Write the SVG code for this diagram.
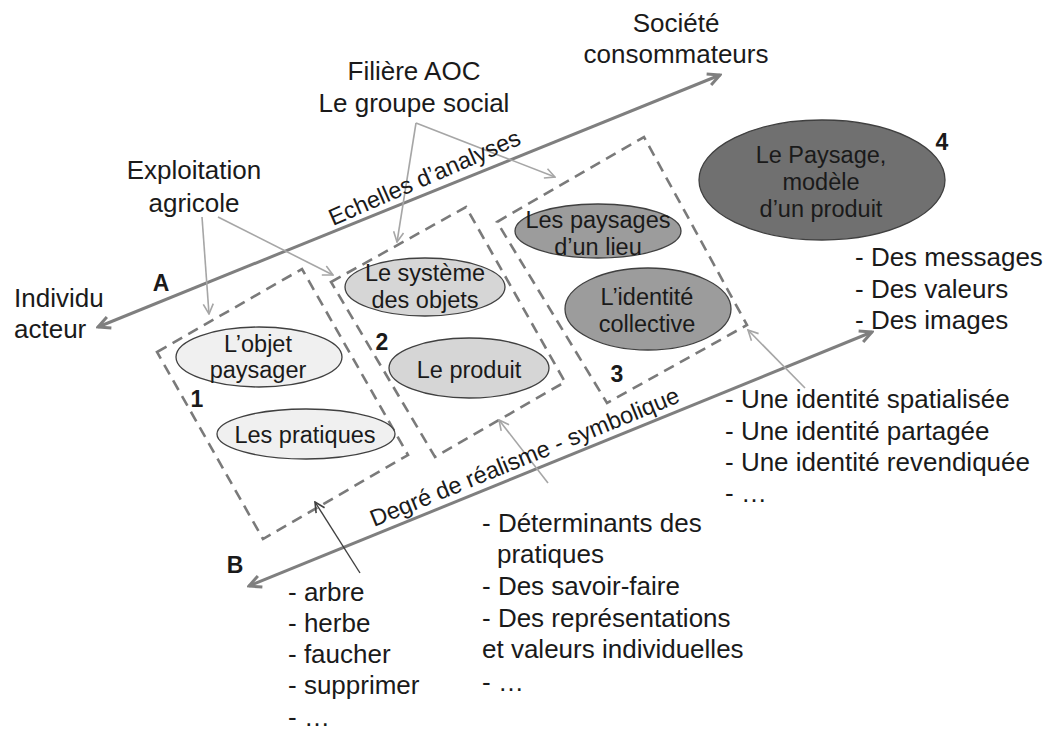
<svg xmlns="http://www.w3.org/2000/svg" width="1055" height="733" viewBox="0 0 1055 733">
<defs>
<style>
text{font-family:"Liberation Sans",Arial,sans-serif;fill:#1a1a1a}
.lbl{font-size:26px}
.ins{font-size:23.5px;text-anchor:middle}
.num{font-size:23px;font-weight:bold}
.ax{font-size:23.5px}
.main{stroke:#7f7f7f;stroke-width:3;fill:none}
.ptr{stroke:#a6a6a6;stroke-width:1.6;fill:none}
.ptrd{stroke:#404040;stroke-width:1.4;fill:none}
.box{stroke:#7a7a7a;stroke-width:2.6;fill:none;stroke-dasharray:11 7}
.ell{stroke:#404040;stroke-width:1.3}
.c1{fill:#f0f0f0}
.c2{fill:#d6d6d6}
.c3{fill:#9c9c9c}
.c4{fill:#707070}
</style>
<marker id="mA" viewBox="0 0 16 16" refX="14" refY="8" markerWidth="16" markerHeight="16" markerUnits="userSpaceOnUse" orient="auto-start-reverse">
<path d="M2,2 L14,8 L2,14" fill="none" stroke="#7f7f7f" stroke-width="3"/>
</marker>
<marker id="mP" viewBox="0 0 12 12" refX="11" refY="6" markerWidth="12" markerHeight="12" markerUnits="userSpaceOnUse" orient="auto">
<path d="M1,1 L11,6 L1,11" fill="none" stroke="#a6a6a6" stroke-width="1.6"/>
</marker>
<marker id="mD" viewBox="0 0 12 12" refX="11" refY="6" markerWidth="12" markerHeight="12" markerUnits="userSpaceOnUse" orient="auto">
<path d="M1,1 L11,6 L1,11" fill="none" stroke="#404040" stroke-width="1.6"/>
</marker>
</defs>
<rect width="1055" height="733" fill="#ffffff"/>

<g id="boxes">
<polygon class="box" points="157,352 302,269 408,455 263,539"/>
<polygon class="box" points="331,282 466,207 565,382 435,457"/>
<polygon class="box" points="497,222 644,137 747,325 607,403"/>
</g>

<g id="connectors">
<line class="main" x1="98" y1="327" x2="720" y2="75" marker-start="url(#mA)" marker-end="url(#mA)"/>
<line class="main" x1="249" y1="586" x2="872" y2="332" marker-start="url(#mA)" marker-end="url(#mA)"/>
<line class="ptr" x1="202" y1="217" x2="209" y2="314" marker-end="url(#mP)"/>
<line class="ptr" x1="218" y1="217" x2="333" y2="275" marker-end="url(#mP)"/>
<line class="ptr" x1="416" y1="123" x2="397" y2="242" marker-end="url(#mP)"/>
<line class="ptr" x1="416" y1="123" x2="555" y2="177" marker-end="url(#mP)"/>
<line class="ptr" x1="805" y1="388" x2="748" y2="330" marker-end="url(#mP)"/>
<line class="ptr" x1="548" y1="483" x2="499" y2="420" marker-end="url(#mP)"/>
<line class="ptrd" x1="360" y1="573" x2="315" y2="502" marker-end="url(#mD)"/>
<text class="ax" transform="translate(333,226) rotate(-23.5)">Echelles d’analyses</text>
<text class="ax" transform="translate(374,527) rotate(-22.2)">Degré de réalisme - symbolique</text>
</g>

<g id="labels">
<text class="lbl" x="676" y="32" text-anchor="middle">Société</text>
<text class="lbl" x="676" y="63" text-anchor="middle">consommateurs</text>
<text class="lbl" x="414" y="80" text-anchor="middle">Filière AOC</text>
<text class="lbl" x="414" y="112" text-anchor="middle">Le groupe social</text>
<text class="lbl" x="194" y="179" text-anchor="middle">Exploitation</text>
<text class="lbl" x="194" y="212" text-anchor="middle">agricole</text>
<text class="lbl" x="14" y="307">Individu</text>
<text class="lbl" x="14" y="338">acteur</text>
<text class="num" x="161" y="291" text-anchor="middle">A</text>
<text class="num" x="235" y="573" text-anchor="middle">B</text>
<text class="num" x="197" y="407" text-anchor="middle">1</text>
<text class="num" x="382" y="350" text-anchor="middle">2</text>
<text class="num" x="617" y="382" text-anchor="middle">3</text>
<text class="num" x="942" y="150" text-anchor="middle">4</text>
</g>

<g id="node-objet">
<ellipse class="ell c1" cx="259" cy="357" rx="83" ry="30"/>
<text class="ins" x="258" y="352">L’objet</text>
<text class="ins" x="258" y="378">paysager</text>
</g>
<g id="node-pratiques">
<ellipse class="ell c1" cx="306" cy="434" rx="89" ry="25"/>
<text class="ins" x="305" y="443">Les pratiques</text>
</g>
<g id="node-systeme">
<ellipse class="ell c2" cx="425" cy="287" rx="80" ry="29"/>
<text class="ins" x="425" y="281">Le système</text>
<text class="ins" x="425" y="308">des objets</text>
</g>
<g id="node-produit">
<ellipse class="ell c2" cx="469" cy="368" rx="80" ry="30"/>
<text class="ins" x="469" y="378">Le produit</text>
</g>
<g id="node-paysages-lieu">
<ellipse class="ell c3" cx="598" cy="231" rx="83" ry="27"/>
<text class="ins" x="598" y="228">Les paysages</text>
<text class="ins" x="598" y="255">d’un lieu</text>
</g>
<g id="node-identite">
<ellipse class="ell c3" cx="648" cy="309" rx="83" ry="41"/>
<text class="ins" x="647" y="305">L’identité</text>
<text class="ins" x="647" y="332">collective</text>
</g>
<g id="node-paysage-modele">
<ellipse class="ell c4" cx="822" cy="180" rx="123" ry="60"/>
<text class="ins" x="821" y="163">Le Paysage,</text>
<text class="ins" x="821" y="190">modèle</text>
<text class="ins" x="821" y="217">d’un produit</text>
</g>

<g id="list-messages">
<text class="lbl" x="855" y="266">- Des messages</text>
<text class="lbl" x="855" y="298">- Des valeurs</text>
<text class="lbl" x="855" y="329">- Des images</text>
</g>
<g id="list-identite">
<text class="lbl" x="725" y="408">- Une identité spatialisée</text>
<text class="lbl" x="725" y="440">- Une identité partagée</text>
<text class="lbl" x="725" y="471">- Une identité revendiquée</text>
<text class="lbl" x="725" y="502">- …</text>
</g>
<g id="list-determinants">
<text class="lbl" x="482" y="532">- Déterminants des</text>
<text class="lbl" x="497" y="563">pratiques</text>
<text class="lbl" x="482" y="595">- Des savoir-faire</text>
<text class="lbl" x="482" y="627">- Des représentations</text>
<text class="lbl" x="482" y="658">et valeurs individuelles</text>
<text class="lbl" x="482" y="691">- …</text>
</g>
<g id="list-arbre">
<text class="lbl" x="288" y="601">- arbre</text>
<text class="lbl" x="288" y="632">- herbe</text>
<text class="lbl" x="288" y="663">- faucher</text>
<text class="lbl" x="288" y="694">- supprimer</text>
<text class="lbl" x="288" y="726">- …</text>
</g>
</svg>
